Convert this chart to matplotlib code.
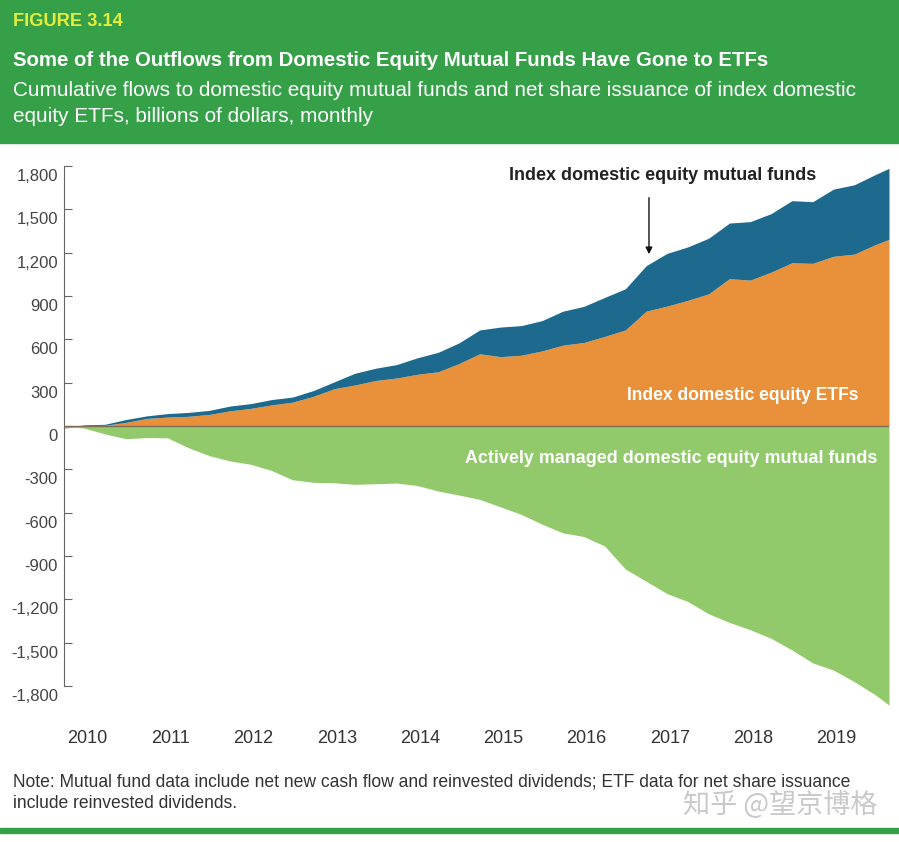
import matplotlib.pyplot as plt
import matplotlib.transforms as mtransforms
from matplotlib.patches import Rectangle

# cumulative flows, billions of dollars (month 0 = Jan 2010)
months = [0, 3, 6, 9, 12, 15, 18, 21, 24, 27, 30, 33, 36, 39, 42, 45, 48, 51, 54, 57,
          60, 63, 66, 69, 72, 75, 78, 81, 84, 87, 90, 93, 96, 99, 102, 105, 108, 111,
          114, 117, 119]
etf = [-15, 3, 5, 25, 52, 62, 67, 80, 105, 122, 146, 165, 205, 258, 284, 315, 332, 358,
       375, 432, 500, 480, 490, 520, 560, 578, 620, 665, 795, 830, 870, 915, 1020, 1010,
       1065, 1130, 1126, 1175, 1190, 1255, 1292]
index_mf = [0, 5, 7, 20, 18, 24, 27, 28, 33, 33, 37, 35, 40, 47, 81, 85, 93, 114, 135,
            143, 165, 205, 205, 210, 235, 250, 270, 285, 315, 365, 370, 385, 385, 405,
            405, 430, 427, 465, 480, 485, 492]
active = [0, -15, -55, -88, -80, -82, -150, -205, -242, -265, -308, -372, -390, -393,
          -404, -400, -395, -412, -450, -478, -508, -560, -612, -680, -740, -765, -830,
          -990, -1075, -1160, -1215, -1300, -1360, -1410, -1470, -1550, -1640, -1690,
          -1770, -1860, -1932]

years = ['2010', '2011', '2012', '2013', '2014', '2015', '2016', '2017', '2018', '2019']
year_pos = [3.4 + 12 * i for i in range(len(years))]
yticks = [-1800, -1500, -1200, -900, -600, -300, 0, 300, 600, 900, 1200, 1500, 1800]

W, H = 899, 842
plt.rcParams['font.family'] = ['Liberation Sans', 'DejaVu Sans']

fig = plt.figure(figsize=(W / 100, H / 100), dpi=100)
renderer = fig.canvas.get_renderer()


def fx(x):
    return x / W


def fy(y):
    return 1 - y / H


def put(x, y, s, width, **kw):
    # place text at pixel (x, y) and scale its size so it spans `width` pixels
    t = fig.text(fx(x), fy(y), s, va='center', fontsize=12, **kw)
    w = t.get_window_extent(renderer=renderer).width
    t.set_fontsize(12 * width / w)
    return t


# header band and bottom rule
fig.add_artist(Rectangle((0, fy(143)), 1, 143 / H, transform=fig.transFigure,
                         color='#36a049', zorder=0))
fig.add_artist(Rectangle((0, fy(833)), 1, 5 / H, transform=fig.transFigure,
                         color='#36a049', zorder=0))

put(13, 22, 'FIGURE 3.14', 109, color='#e4ef3c', fontweight='bold')
put(13, 61, 'Some of the Outflows from Domestic Equity Mutual Funds Have Gone to ETFs', 754,
    color='white', fontweight='bold')
put(13, 91, 'Cumulative flows to domestic equity mutual funds and net share issuance of index domestic',
    845, color='white')
fig.text(fx(13), fy(116), 'equity ETFs, billions of dollars, monthly', color='white',
         fontsize=fig.texts[-1].get_fontsize(), va='center')

# plot area
ylo, yhi = -1960, 1820
px_per = 260 / 1800
bottom_px = 426 + (-ylo) * px_per
top_px = 426 - yhi * px_per
ax = fig.add_axes([fx(63.5), fy(bottom_px), fx(889) - fx(63.5), (bottom_px - top_px) / H])
ax.set_xlim(0, 119)
ax.set_ylim(ylo, yhi)

total = [e + i for e, i in zip(etf, index_mf)]
ax.fill_between(months, 0, etf, color='#e8913a', lw=0, zorder=2)
ax.fill_between(months, etf, total, color='#1d6a8e', lw=0, zorder=2)
ax.fill_between(months, 0, active, color='#92c96a', lw=0, zorder=2)
ax.axhline(0, color='#7d6b55', lw=1, zorder=3)

for s in ['top', 'right', 'bottom']:
    ax.spines[s].set_visible(False)
ax.spines['left'].set_bounds(-1800, 1800)
ax.spines['left'].set_color('#666666')

ax.set_yticks(yticks)
ax.set_yticklabels([f'{v:,}' for v in yticks])
ax.tick_params(axis='y', direction='in', length=6, color='#666666', pad=4,
               labelsize=12, labelcolor='#444444')
offset = mtransforms.ScaledTranslation(0, -9 / 100, fig.dpi_scale_trans)
for lab in ax.get_yticklabels():
    lab.set_transform(lab.get_transform() + offset)

ax.set_xticks(year_pos)
ax.set_xticklabels(years)
ax.tick_params(axis='x', length=0, pad=15, labelsize=13, labelcolor='#333333')

# labels inside chart
put(509, 176, 'Index domestic equity mutual funds', 306, color='#222222', fontweight='bold')
ax.annotate('', xy=(84.4, 1170), xytext=(84.4, 1600),
            arrowprops=dict(arrowstyle='-|>', color='#111111', lw=1,
                            mutation_scale=10))
put(627, 395, 'Index domestic equity ETFs', 231, color='white', fontweight='bold')
put(465, 458, 'Actively managed domestic equity mutual funds', 408, color='white',
    fontweight='bold')

# note
put(13, 782, 'Note: Mutual fund data include net new cash flow and reinvested dividends; ETF data for net share issuance',
    842, color='#333333')
fig.text(fx(13), fy(803), 'include reinvested dividends.', color='#333333',
         fontsize=fig.texts[-1].get_fontsize(), va='center')
put(683, 805, '知乎 @望京博格', 194, color='#c9c9c9',
    family=['Noto Sans CJK SC', 'DejaVu Sans'])

fig.savefig('out.png', dpi=100)
